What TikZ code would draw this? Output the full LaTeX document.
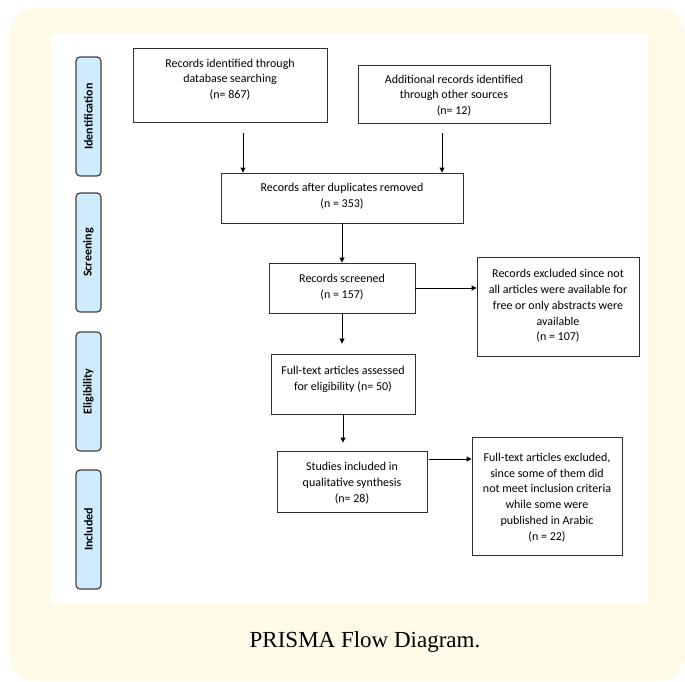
\documentclass[tikz,border=0pt]{standalone}
\usepackage{fontspec}
\setmainfont{Carlito}
\newfontfamily\capfont{Liberation Serif}
\usetikzlibrary{arrows.meta}
\definecolor{cream}{HTML}{FFFAE8}
\definecolor{pillblue}{HTML}{CFEBFC}
\definecolor{pillline}{HTML}{404040}
\definecolor{boxline}{HTML}{303030}
\begin{document}
\begin{tikzpicture}[x=1pt,y=-1pt,
  box/.style={draw=boxline, line width=0.9pt, inner sep=0pt},
  txt/.style={inner sep=0pt, align=center, font=\fontsize{12}{15.8}\selectfont},
  pill/.style={draw=pillline, fill=pillblue, line width=1.2pt, rounded corners=4pt,
    rotate=90, minimum width=119pt, minimum height=25pt, inner sep=0pt,
    font=\fontsize{12}{14}\selectfont\bfseries},
  arr/.style={-{Triangle[length=5pt,width=5pt]}, line width=0.9pt, black}]
\useasboundingbox (0,0) rectangle (685,681);
\fill[cream, rounded corners=25pt] (10,8) rectangle (685,681);
\fill[white] (51,34) rectangle (648,603);
% phase labels
\node[pill] (p1) at (88.5,116.5) {Identification};
\node[pill] (p2) at (88.5,252.5) {Screening};
\node[pill] (p3) at (88.5,391.5) {Eligibility};
\node[pill] (p4) at (88.5,529.5) {Included};
% boxes
\node[box, minimum width=194pt, minimum height=74pt] (b1) at (230,85) {};
\node[box, minimum width=192pt, minimum height=58pt] (b2) at (454,94) {};
\node[box, minimum width=242pt, minimum height=50pt] (b3) at (342,198) {};
\node[box, minimum width=146pt, minimum height=50pt] (b4) at (342,288) {};
\node[box, minimum width=162pt, minimum height=99pt] (b5) at (558,306.5) {};
\node[box, minimum width=144pt, minimum height=60pt] (b6) at (343,384) {};
\node[box, minimum width=150pt, minimum height=61pt] (b7) at (352,481.5) {};
\node[box, minimum width=150pt, minimum height=118pt] (b8) at (547,496) {};
% texts
\node[txt] (t1) at (230,79.5) {Records identified through\\database searching\\(n= 867)};
\node[txt] (t2) at (454,95.5) {Additional records identified\\through other sources\\(n= 12)};
\node[txt] (t3) at (342,196.5) {Records after duplicates removed\\(n = 353)};
\node[txt] (t4) at (342,287) {Records screened\\(n = 157)};
\node[txt] (t5) at (558,306) {Records excluded since not\\all articles were available for\\free or only abstracts were\\available\\(n = 107)};
\node[txt] (t6) at (343,379) {Full-text articles assessed\\for eligibility (n= 50)};
\node[txt] (t7) at (352,483) {Studies included in\\qualitative synthesis\\(n= 28)};
\node[txt] (t8) at (547,497.5) {Full-text articles excluded,\\since some of them did\\not meet inclusion criteria\\while some were\\published in Arabic\\(n = 22)};
% connectors
\draw[arr, shorten <=11pt] ([xshift=13pt]b1.south) -- ([xshift=13pt]b1.south |- b3.north);
\draw[arr, shorten <=10pt] ([xshift=-12pt]b2.south) -- ([xshift=-12pt]b2.south |- b3.north);
\draw[arr] (b3.south) -- (b4.north);
\draw[arr] (b4.east) -- (b4.east -| b5.west);
\draw[arr, shorten >=10pt] (b4.south) -- (b4.south |- b6.north);
\draw[arr, shorten >=8pt] (b6.south) -- (b6.south |- b7.north);
\draw[arr, shorten <=2pt] ([yshift=22.5pt]b7.east) -- ([yshift=22.5pt]b7.east -| b8.west);
% caption
\node[inner sep=0pt, font=\capfont\fontsize{23}{26}\selectfont] (cap) at (365,642) {PRISMA Flow Diagram.};
\end{tikzpicture}
\end{document}
